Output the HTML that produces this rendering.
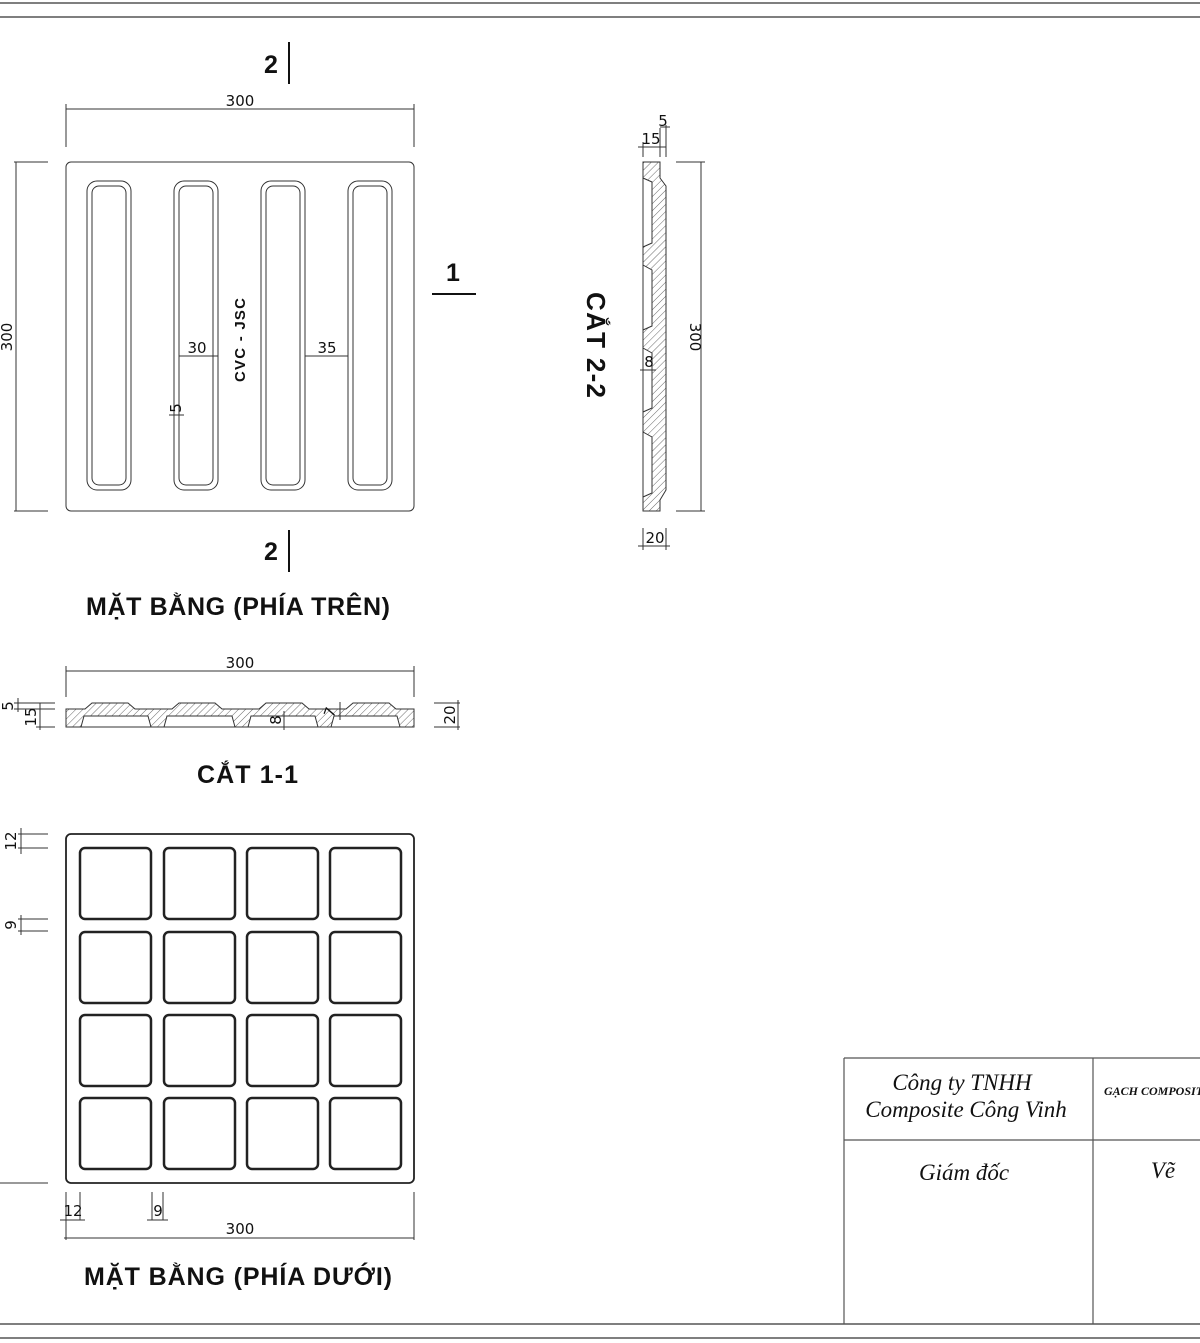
<!DOCTYPE html>
<html><head><meta charset="utf-8"><style>
html,body{margin:0;padding:0;background:#fff;}
svg{display:block}
.d{font-family:"DejaVu Sans","Liberation Sans",sans-serif;font-size:15px;fill:#111}
.b{font-family:"Liberation Sans","DejaVu Sans",sans-serif;font-weight:bold;fill:#111}
.s{font-family:"Liberation Serif",serif;font-style:italic;fill:#111}
</style></head><body>
<svg width="1200" height="1343" viewBox="0 0 1200 1343" xmlns="http://www.w3.org/2000/svg">
<defs>
<pattern id="h" width="5" height="5" patternUnits="userSpaceOnUse" patternTransform="rotate(45)">
<line x1="0" y1="0" x2="0" y2="5" stroke="#444" stroke-width="0.8"/></pattern>
</defs>
<g stroke="#555" stroke-width="1.5"><line x1="0" y1="3" x2="1200" y2="3"/><line x1="0" y1="17" x2="1200" y2="17"/>
<line x1="0" y1="1324" x2="1200" y2="1324"/><line x1="0" y1="1338" x2="1200" y2="1338"/></g>

<!-- top plan -->
<g fill="none" stroke="#333" stroke-width="1">
<rect x="66" y="162" width="348" height="349" rx="5"/>
<rect x="87" y="181" width="44" height="309" rx="10"/><rect x="92" y="186" width="34" height="299" rx="7"/>
<rect x="174" y="181" width="44" height="309" rx="10"/><rect x="179" y="186" width="34" height="299" rx="7"/>
<rect x="261" y="181" width="44" height="309" rx="10"/><rect x="266" y="186" width="34" height="299" rx="7"/>
<rect x="348" y="181" width="44" height="309" rx="10"/><rect x="353" y="186" width="34" height="299" rx="7"/>
<line x1="66" y1="109" x2="414" y2="109"/><line x1="66" y1="104" x2="66" y2="147"/><line x1="414" y1="104" x2="414" y2="147"/>
<line x1="16" y1="162" x2="16" y2="511"/><line x1="14" y1="162" x2="48" y2="162"/><line x1="14" y1="511" x2="48" y2="511"/>
<line x1="179" y1="356" x2="218" y2="356"/><line x1="305" y1="356" x2="348" y2="356"/>
<line x1="169" y1="415" x2="184" y2="415"/>
</g>
<g stroke="#111" stroke-width="2"><line x1="289" y1="42" x2="289" y2="84"/><line x1="289" y1="530" x2="289" y2="572"/><line x1="432" y1="294" x2="476" y2="294"/></g>
<text class="d" x="240" y="106" text-anchor="middle">300</text>
<text class="d" transform="translate(12,337) rotate(-90)" text-anchor="middle">300</text>
<text class="d" x="197" y="353" text-anchor="middle">30</text>
<text class="d" x="327" y="353" text-anchor="middle">35</text>
<text class="d" transform="translate(181,408) rotate(-90)" font-size="12" text-anchor="middle">5</text>
<text class="b" transform="translate(245,340) rotate(-90)" font-size="15" text-anchor="middle" textLength="84">CVC - JSC</text>
<text class="b" x="271" y="73" font-size="25" text-anchor="middle">2</text>
<text class="b" x="271" y="560" font-size="25" text-anchor="middle">2</text>
<text class="b" x="453" y="281" font-size="25" text-anchor="middle">1</text>
<text class="b" x="86" y="615" font-size="25" textLength="304">MẶT BẰNG (PHÍA TRÊN)</text>

<!-- section 1-1 -->
<path d="M66 709 L85 709 L92 703 L128 703 L135 709 L172 709 L179 703 L215 703 L222 709 L259 709 L266 703 L302 703 L309 709 L346 709 L353 703 L389 703 L396 709 L414 709 L414 727 L400 727 L397 716 L334 716 L331 727 L318 727 L315 716 L251 716 L248 727 L235 727 L232 716 L167 716 L164 727 L151 727 L148 716 L84 716 L81 727 L66 727 Z" fill="url(#h)" stroke="#333" stroke-width="1"/>
<g fill="none" stroke="#333" stroke-width="1">
<line x1="81" y1="727" x2="400" y2="727"/>
<line x1="66" y1="671" x2="414" y2="671"/><line x1="66" y1="666" x2="66" y2="697"/><line x1="414" y1="666" x2="414" y2="697"/>
<line x1="14" y1="703" x2="55" y2="703"/><line x1="14" y1="709" x2="55" y2="709"/><line x1="36" y1="727" x2="55" y2="727"/>
<line x1="18" y1="698" x2="18" y2="712"/><line x1="40" y1="703" x2="40" y2="730"/>
<line x1="434" y1="703" x2="460" y2="703"/><line x1="434" y1="727" x2="460" y2="727"/><line x1="458" y1="700" x2="458" y2="730"/>
<line x1="284" y1="711" x2="284" y2="730"/><line x1="340" y1="702" x2="340" y2="720"/>
</g>
<text class="d" x="240" y="668" text-anchor="middle">300</text>
<text class="d" transform="translate(13,706) rotate(-90)" font-size="13" text-anchor="middle">5</text>
<text class="d" transform="translate(36,717) rotate(-90)" font-size="13" text-anchor="middle">15</text>
<text class="d" transform="translate(455,715) rotate(-90)" font-size="14" text-anchor="middle">20</text>
<text class="d" transform="translate(281,720) rotate(-90)" font-size="13" text-anchor="middle">8</text>
<text class="d" transform="translate(335,714) rotate(-70)" font-size="13" text-anchor="middle">7</text>
<text class="b" x="197" y="783" font-size="25" textLength="101">CẮT 1-1</text>

<!-- section 2-2 -->
<path d="M643 162 L660 162 L660 178 L666 186 L666 490 L660 500 L660 511 L643 511 L643 497 L652 493 L652 437 L643 432 L643 412 L652 408 L652 353 L643 348 L643 330 L652 326 L652 270 L643 265 L643 247 L652 243 L652 182 L643 178 Z" fill="url(#h)" stroke="#333" stroke-width="1"/>
<g fill="none" stroke="#333" stroke-width="1">
<line x1="643" y1="178" x2="643" y2="497"/>
<line x1="701" y1="162" x2="701" y2="511"/><line x1="676" y1="162" x2="705" y2="162"/><line x1="676" y1="511" x2="705" y2="511"/>
<line x1="638" y1="147" x2="666" y2="147"/><line x1="643" y1="142" x2="643" y2="157"/><line x1="660" y1="128" x2="660" y2="157"/><line x1="666" y1="125" x2="666" y2="157"/><line x1="660" y1="127" x2="670" y2="127"/>
<line x1="638" y1="546" x2="670" y2="546"/><line x1="643" y1="528" x2="643" y2="550"/><line x1="666" y1="528" x2="666" y2="550"/>
<line x1="640" y1="370" x2="656" y2="370"/>
</g>
<text class="d" x="651" y="144" font-size="14" text-anchor="middle">15</text>
<text class="d" x="663" y="126" font-size="14" text-anchor="middle">5</text>
<text class="d" x="655" y="543" font-size="14" text-anchor="middle">20</text>
<text class="d" x="649" y="367" font-size="13" text-anchor="middle">8</text>
<text class="d" transform="translate(690,337) rotate(90)" text-anchor="middle">300</text>
<text class="b" transform="translate(587,345) rotate(90)" font-size="26" text-anchor="middle" textLength="106">CẮT 2-2</text>

<!-- bottom plan -->
<g fill="none" stroke="#222">
<rect x="66" y="834" width="348" height="349" rx="5" stroke-width="1.8"/>
<g stroke-width="2.5">
<rect x="80" y="848" width="71" height="71" rx="5"/><rect x="164" y="848" width="71" height="71" rx="5"/><rect x="247" y="848" width="71" height="71" rx="5"/><rect x="330" y="848" width="71" height="71" rx="5"/>
<rect x="80" y="932" width="71" height="71" rx="5"/><rect x="164" y="932" width="71" height="71" rx="5"/><rect x="247" y="932" width="71" height="71" rx="5"/><rect x="330" y="932" width="71" height="71" rx="5"/>
<rect x="80" y="1015" width="71" height="71" rx="5"/><rect x="164" y="1015" width="71" height="71" rx="5"/><rect x="247" y="1015" width="71" height="71" rx="5"/><rect x="330" y="1015" width="71" height="71" rx="5"/>
<rect x="80" y="1098" width="71" height="71" rx="5"/><rect x="164" y="1098" width="71" height="71" rx="5"/><rect x="247" y="1098" width="71" height="71" rx="5"/><rect x="330" y="1098" width="71" height="71" rx="5"/>
</g>
</g>
<g fill="none" stroke="#333" stroke-width="1">
<line x1="18" y1="834" x2="48" y2="834"/><line x1="18" y1="848" x2="48" y2="848"/><line x1="21" y1="828" x2="21" y2="854"/>
<line x1="18" y1="919" x2="48" y2="919"/><line x1="18" y1="931" x2="48" y2="931"/><line x1="21" y1="915" x2="21" y2="935"/>
<line x1="0" y1="1183" x2="48" y2="1183"/>
<line x1="66" y1="1192" x2="66" y2="1240"/><line x1="80" y1="1192" x2="80" y2="1220"/><line x1="60" y1="1220" x2="85" y2="1220"/>
<line x1="152" y1="1192" x2="152" y2="1220"/><line x1="163" y1="1192" x2="163" y2="1220"/><line x1="147" y1="1220" x2="168" y2="1220"/>
<line x1="64" y1="1238" x2="414" y2="1238"/><line x1="414" y1="1192" x2="414" y2="1240"/>
</g>
<text class="d" transform="translate(16,841) rotate(-90)" font-size="14" text-anchor="middle">12</text>
<text class="d" transform="translate(16,925) rotate(-90)" font-size="14" text-anchor="middle">9</text>
<text class="d" x="73" y="1216" font-size="14" text-anchor="middle">12</text>
<text class="d" x="158" y="1216" font-size="14" text-anchor="middle">9</text>
<text class="d" x="240" y="1234" text-anchor="middle">300</text>
<text class="b" x="84" y="1285" font-size="25" textLength="308">MẶT BẰNG (PHÍA DƯỚI)</text>

<!-- title block -->
<g fill="none" stroke="#555" stroke-width="1.2">
<line x1="844" y1="1058" x2="1200" y2="1058"/><line x1="844" y1="1058" x2="844" y2="1324"/>
<line x1="844" y1="1140" x2="1200" y2="1140"/><line x1="1093" y1="1058" x2="1093" y2="1324"/>
</g>
<text class="s" x="962" y="1090" font-size="23" text-anchor="middle">Công ty  TNHH</text>
<text class="s" x="966" y="1117" font-size="23" text-anchor="middle">Composite Công Vinh</text>
<text class="s" x="1104" y="1095" font-size="12" font-weight="bold">GẠCH COMPOSITE</text>
<text class="s" x="964" y="1180" font-size="23" text-anchor="middle">Giám đốc</text>
<text class="s" x="1163" y="1178" font-size="23" text-anchor="middle">Vẽ</text>
</svg>
</body></html>
